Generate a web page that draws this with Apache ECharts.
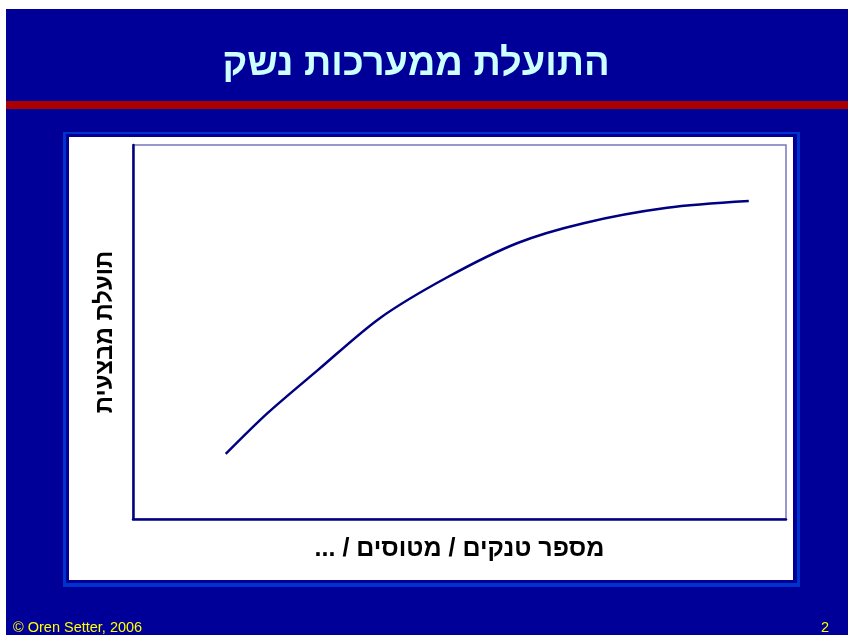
<!DOCTYPE html>
<html>

<head>
    <meta charset="utf-8">
    <title></title>
    <script src="https://cdn.jsdelivr.net/npm/echarts@6/dist/echarts.min.js"></script>
</head>
<style>
    html, body {
        margin: 0;
        padding: 0;
        background: #fff;
    }
</style>

<body>
    <div id="chart_box" style="width: 848px;height:635px;"></div>

    <script>
        // 曲线上读出的点 (x: 数量, y: 效用), 轴 0-100
        var quantity = [14.2, 20.6, 28.3, 37.8, 48.2, 58.9, 69.0, 81.8, 94.3];
        var utility = [17.4, 28.3, 39.8, 53.7, 64.7, 73.8, 79.1, 83.2, 85.0];

        var titleText = 'התועלת ממערכות נשק';
        var xName = '\u200Fמספר טנקים / מטוסים / ...\u200F';
        var yName = 'תועלת מבצעית';
        var footLeft = '© Oren Setter, 2006';
        var footRight = '2';

        var points = quantity.map(function (q, i) {
            return [q, utility[i]];
        });

        var myChart1 = echarts.init(document.getElementById('chart_box'));

        var option = {
            backgroundColor: '#fff',
            animation: false,
            graphic: [
                // 幻灯片底色
                { type: 'rect', z: -10, shape: { x: 6, y: 9, width: 842, height: 626 }, style: { fill: '#000099' } },
                // 红条
                { type: 'rect', z: -9, shape: { x: 6, y: 101, width: 842, height: 8 }, style: { fill: '#AA0000' } },
                // 图框
                { type: 'rect', z: -9, shape: { x: 63, y: 132, width: 737, height: 455 }, style: { fill: '#0033CC' } },
                { type: 'rect', z: -8, shape: { x: 66, y: 134, width: 731, height: 449 }, style: { fill: '#000099' } },
                { type: 'rect', z: -7, shape: { x: 69, y: 137, width: 724, height: 443 }, style: { fill: '#fff' } },
                {
                    type: 'text', z: 5, x: 416, y: 65,
                    style: {
                        text: titleText, fill: '#CCFFFF', align: 'center', verticalAlign: 'middle',
                        font: 'bold 38px Arial, "Liberation Sans", "DejaVu Sans", sans-serif'
                    }
                },
                {
                    type: 'text', z: 5, x: 13, y: 628,
                    style: {
                        text: footLeft, fill: '#FFFF00', align: 'left', verticalAlign: 'middle',
                        font: '14.5px Arial, "Liberation Sans", sans-serif'
                    }
                },
                {
                    type: 'text', z: 5, x: 825, y: 628,
                    style: {
                        text: footRight, fill: '#FFFF00', align: 'center', verticalAlign: 'middle',
                        font: '14.5px Arial, "Liberation Sans", sans-serif'
                    }
                }
            ],
            grid: {
                left: 133,
                top: 145,
                right: 62,
                bottom: 116,
                show: true,
                backgroundColor: '#fff',
                borderColor: '#7777BB',
                borderWidth: 1.5
            },
            xAxis: {
                type: 'value',
                min: 0,
                max: 100,
                name: xName,
                nameLocation: 'middle',
                nameGap: 18,
                nameTextStyle: {
                    color: '#000',
                    fontSize: 25,
                    fontWeight: 'bold',
                    fontFamily: 'Arial, "Liberation Sans", "DejaVu Sans", sans-serif'
                },
                axisLine: { show: true, onZero: false, lineStyle: { color: '#000080', width: 2.5 } },
                axisTick: { show: false },
                axisLabel: { show: false },
                splitLine: { show: false }
            },
            yAxis: {
                type: 'value',
                min: 0,
                max: 100,
                name: yName,
                nameLocation: 'middle',
                nameRotate: 90,
                nameGap: 16,
                nameTextStyle: {
                    color: '#000',
                    fontSize: 24,
                    fontWeight: 'bold',
                    fontFamily: 'Arial, "Liberation Sans", "DejaVu Sans", sans-serif'
                },
                axisLine: { show: true, onZero: false, lineStyle: { color: '#000080', width: 2.5 } },
                axisTick: { show: false },
                axisLabel: { show: false },
                splitLine: { show: false }
            },
            series: [{
                type: 'line',
                data: points,
                smooth: 0.3,
                showSymbol: false,
                lineStyle: { color: '#000080', width: 2.5 }
            }]
        };

        myChart1.setOption(option);
    </script>
</body>

</html>
